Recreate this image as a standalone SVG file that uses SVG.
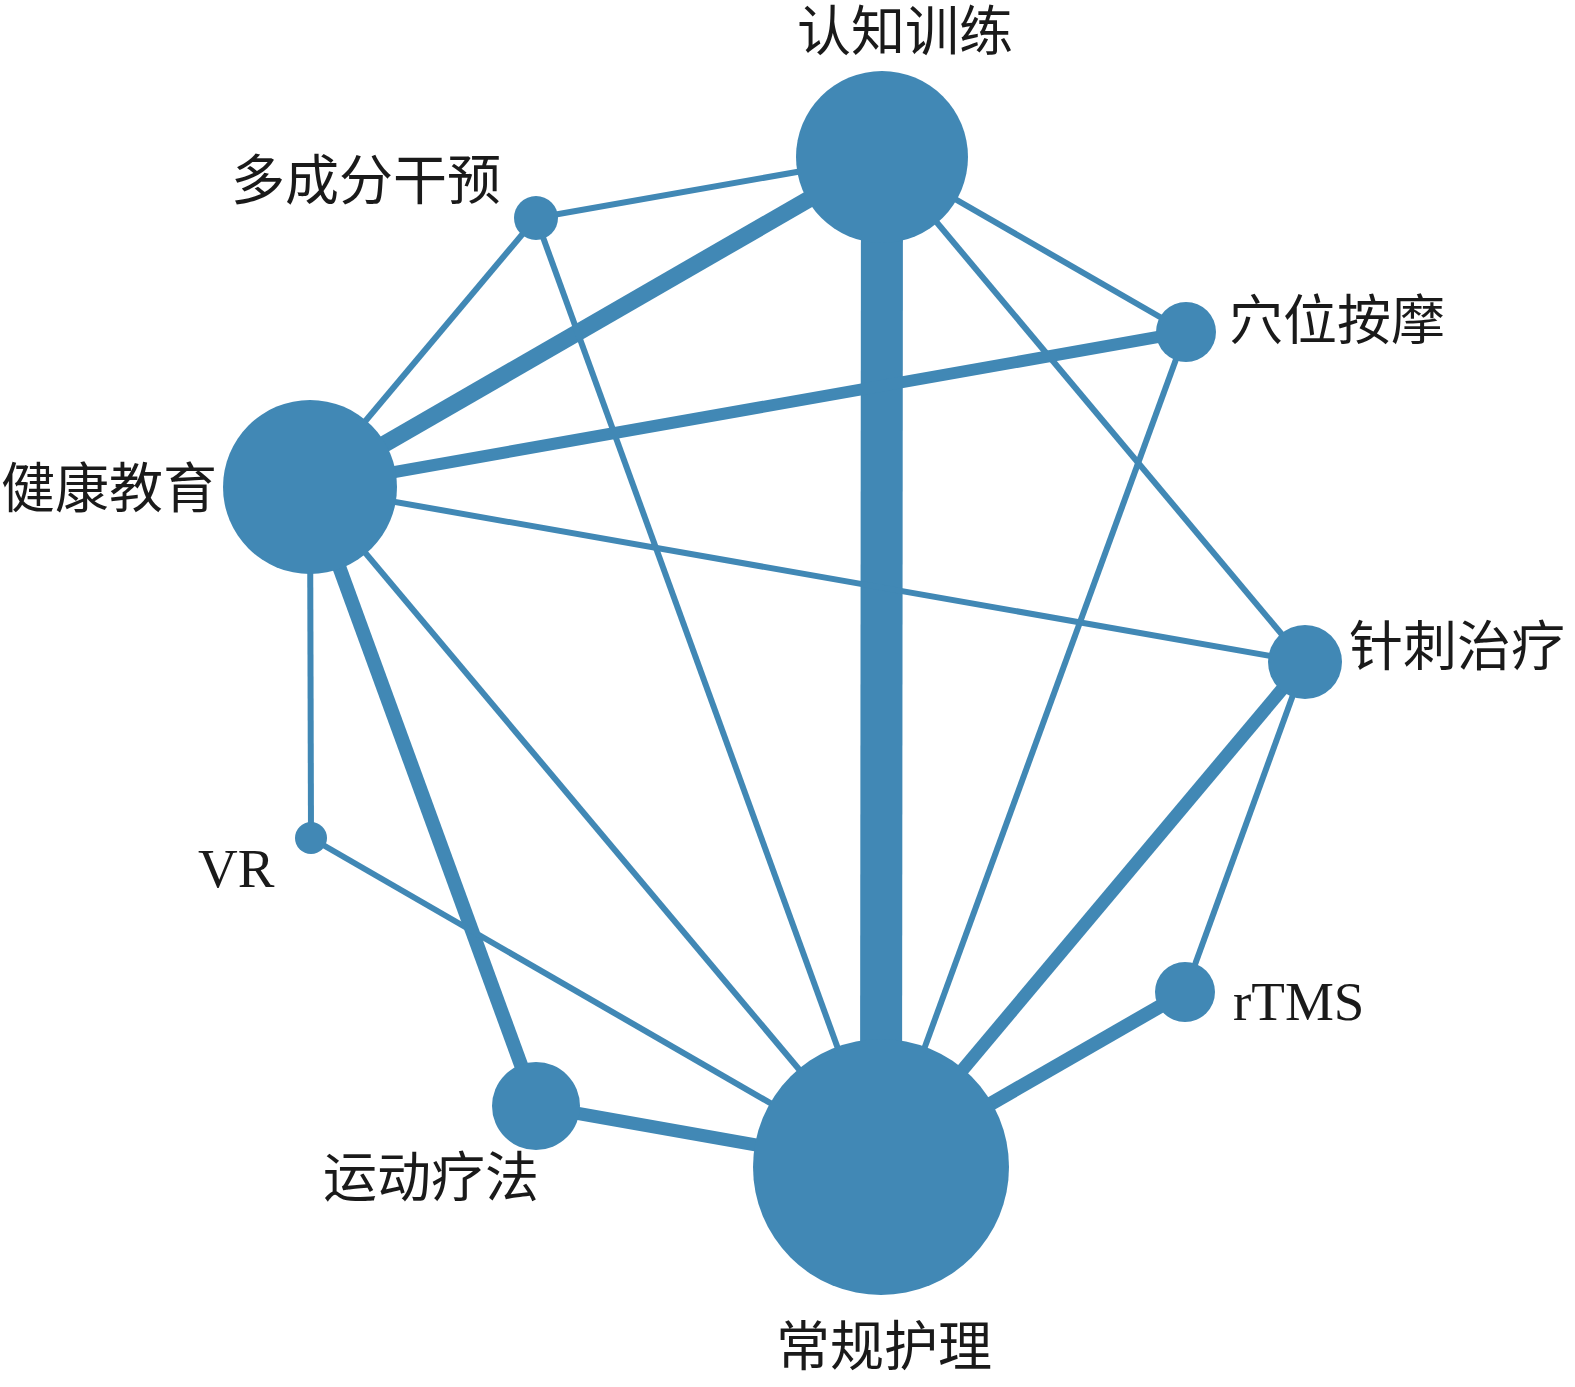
<svg xmlns="http://www.w3.org/2000/svg" width="1575" height="1387" viewBox="0 0 1575 1387">
<style>
.e{stroke:#4188b5;stroke-linecap:butt;fill:none}
.n{fill:#4188b5}
.cj{font-family:"Noto Sans CJK SC","Noto Sans CJK TC",sans-serif;font-size:54px;fill:#1a1a1a}
.la{font-family:"Liberation Serif","Times New Roman",serif;font-size:55px;fill:#1a1a1a}
</style>
<rect width="1575" height="1387" fill="#ffffff"/>
<g id="connectors">
<line class="e" x1="882" y1="157" x2="881" y2="1167" stroke-width="42"/>
<line class="e" x1="882" y1="157" x2="310" y2="487" stroke-width="17"/>
<line class="e" x1="882" y1="157" x2="536" y2="218" stroke-width="6"/>
<line class="e" x1="882" y1="157" x2="1186" y2="332" stroke-width="6"/>
<line class="e" x1="882" y1="157" x2="1305" y2="662" stroke-width="6"/>
<line class="e" x1="536" y1="218" x2="310" y2="487" stroke-width="6"/>
<line class="e" x1="536" y1="218" x2="881" y2="1167" stroke-width="6"/>
<line class="e" x1="1186" y1="332" x2="310" y2="487" stroke-width="12"/>
<line class="e" x1="1186" y1="332" x2="881" y2="1167" stroke-width="6"/>
<line class="e" x1="310" y1="487" x2="1305" y2="662" stroke-width="6"/>
<line class="e" x1="310" y1="487" x2="311" y2="838" stroke-width="6"/>
<line class="e" x1="310" y1="487" x2="536" y2="1106" stroke-width="14"/>
<line class="e" x1="310" y1="487" x2="881" y2="1167" stroke-width="6"/>
<line class="e" x1="311" y1="838" x2="881" y2="1167" stroke-width="6"/>
<line class="e" x1="536" y1="1106" x2="881" y2="1167" stroke-width="13"/>
<line class="e" x1="1305" y1="662" x2="881" y2="1167" stroke-width="13"/>
<line class="e" x1="1305" y1="662" x2="1185" y2="992" stroke-width="6"/>
<line class="e" x1="1185" y1="992" x2="881" y2="1167" stroke-width="14"/>
</g>
<g id="node-renzhi"><circle class="n" cx="882" cy="157" r="86"/><text class="cj" x="797" y="51">认知训练</text></g>
<g id="node-duochengfen"><circle class="n" cx="536" cy="218" r="22"/><text class="cj" x="231" y="200">多成分干预</text></g>
<g id="node-xuewei"><circle class="n" cx="1186" cy="332" r="30"/><text class="cj" x="1229" y="340">穴位按摩</text></g>
<g id="node-jiankang"><circle class="n" cx="310" cy="487" r="87"/><text class="cj" x="1" y="508">健康教育</text></g>
<g id="node-zhenci"><circle class="n" cx="1305" cy="662" r="37"/><text class="cj" x="1349" y="666">针刺治疗</text></g>
<g id="node-vr"><circle class="n" cx="311" cy="838" r="16"/><text class="la" x="198" y="887">VR</text></g>
<g id="node-rtms"><circle class="n" cx="1185" cy="992" r="30"/><text class="la" x="1233" y="1020">rTMS</text></g>
<g id="node-yundong"><circle class="n" cx="536" cy="1106" r="44"/><text class="cj" x="323" y="1197">运动疗法</text></g>
<g id="node-changgui"><circle class="n" cx="881" cy="1167" r="128"/><text class="cj" x="776" y="1366">常规护理</text></g>
</svg>
